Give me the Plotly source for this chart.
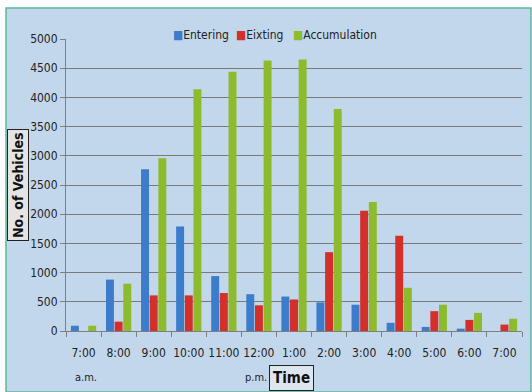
import plotly.graph_objects as go

categories = ["7:00", "8:00", "9:00", "10:00", "11:00", "12:00", "1:00",
              "2:00", "3:00", "4:00", "5:00", "6:00", "7:00 "]
tick_labels = ["7:00", "8:00", "9:00", "10:00", "11:00", "12:00", "1:00",
               "2:00", "3:00", "4:00", "5:00", "6:00", "7:00"]
series_names = ["Entering", "Eixting", "Accumulation"]
entering = [90, 880, 2770, 1790, 940, 630, 590, 490, 450, 140, 70, 40, 0]
exiting = [0, 160, 610, 610, 650, 440, 540, 1350, 2060, 1630, 340, 190, 110]
accumulation = [90, 810, 2960, 4140, 4440, 4630, 4650, 3800, 2210, 740, 450, 310, 210]
colors = ["#3b7ccb", "#d3302c", "#8dbb2d"]

W, H = 532, 392
L, R, T, B = 66, 10, 39, 61
pw, ph = W - L - R, H - T - B

def px(x):
    return (x - L) / pw

def py(y):
    return (H - B - y) / ph

font = "DejaVu Sans Condensed, Liberation Sans Narrow, Liberation Sans, Arial, sans-serif"

fig = go.Figure()
for name, vals, col in zip(series_names, [entering, exiting, accumulation], colors):
    fig.add_trace(go.Bar(name=name, x=categories, y=vals,
                         marker=dict(color=col, line=dict(width=0))))

fig.update_layout(
    width=W, height=H,
    margin=dict(l=L, r=R, t=T, b=B),
    paper_bgcolor="#ffffff",
    plot_bgcolor="#d0c8d4",
    barmode="group", bargap=0.26, bargroupgap=0.08,
    font=dict(family=font, size=12, color="#222222"),
    showlegend=False,
    xaxis=dict(tickmode="array", tickvals=categories, ticktext=tick_labels,
               tickangle=0, ticklabelstandoff=11,
               showgrid=False, showline=True, linecolor="#7f7f7f", linewidth=1,
               ticks="outside", tickson="boundaries", ticklen=5, tickcolor="#7f7f7f",
               tickfont=dict(size=12, color="#222222")),
    yaxis=dict(range=[0, 5000], dtick=500, showgrid=True, gridcolor="#7a7a7a", gridwidth=1,
               showline=True, linecolor="#7f7f7f", ticks="outside", ticklen=5,
               tickcolor="#7f7f7f", zeroline=False,
               tickfont=dict(size=12, color="#222222")),
)

# background panel with border
fig.add_shape(type="rect", xref="paper", yref="paper",
              x0=px(6), x1=px(531), y0=py(392), y1=py(8),
              fillcolor="#c3d7ec", line=dict(color="#5cb898", width=1.5), layer="below")

# legend drawn as text with coloured squares
legend_x = [171, 234, 291]
for name, col, lx in zip(series_names, colors, legend_x):
    fig.add_annotation(text=f'<span style="color:{col}">■</span>{name}',
                       x=px(lx), xref="paper", y=py(35), yref="paper",
                       xanchor="left", yanchor="middle", showarrow=False,
                       font=dict(size=12, color="#222222"))

fig.add_annotation(text="a.m.", x=0, xref="x", y=py(377), yref="paper", xshift=2,
                   xanchor="center", yanchor="middle",
                   showarrow=False, font=dict(size=11, color="#222222"))
fig.add_annotation(text="p.m.", x=5, xref="x", y=py(377), yref="paper", xshift=-3,
                   xanchor="center", yanchor="middle",
                   showarrow=False, font=dict(size=11, color="#222222"))
fig.add_annotation(text="<b>Time</b>", x=px(291), xref="paper", y=py(378), yref="paper",
                   xanchor="center", yanchor="middle",
                   showarrow=False, font=dict(size=15, color="#111111"),
                   bgcolor="#dde6ef", bordercolor="#222222", borderwidth=1, borderpad=3)
fig.add_annotation(text="<b>No. of Vehicles</b>", x=px(18), xref="paper", y=py(185), yref="paper",
                   xanchor="center", yanchor="middle",
                   textangle=-90, showarrow=False, font=dict(size=14, color="#111111"),
                   bgcolor="#e4e4e4", bordercolor="#222222", borderwidth=1, borderpad=2)

fig.write_html("out.html")
